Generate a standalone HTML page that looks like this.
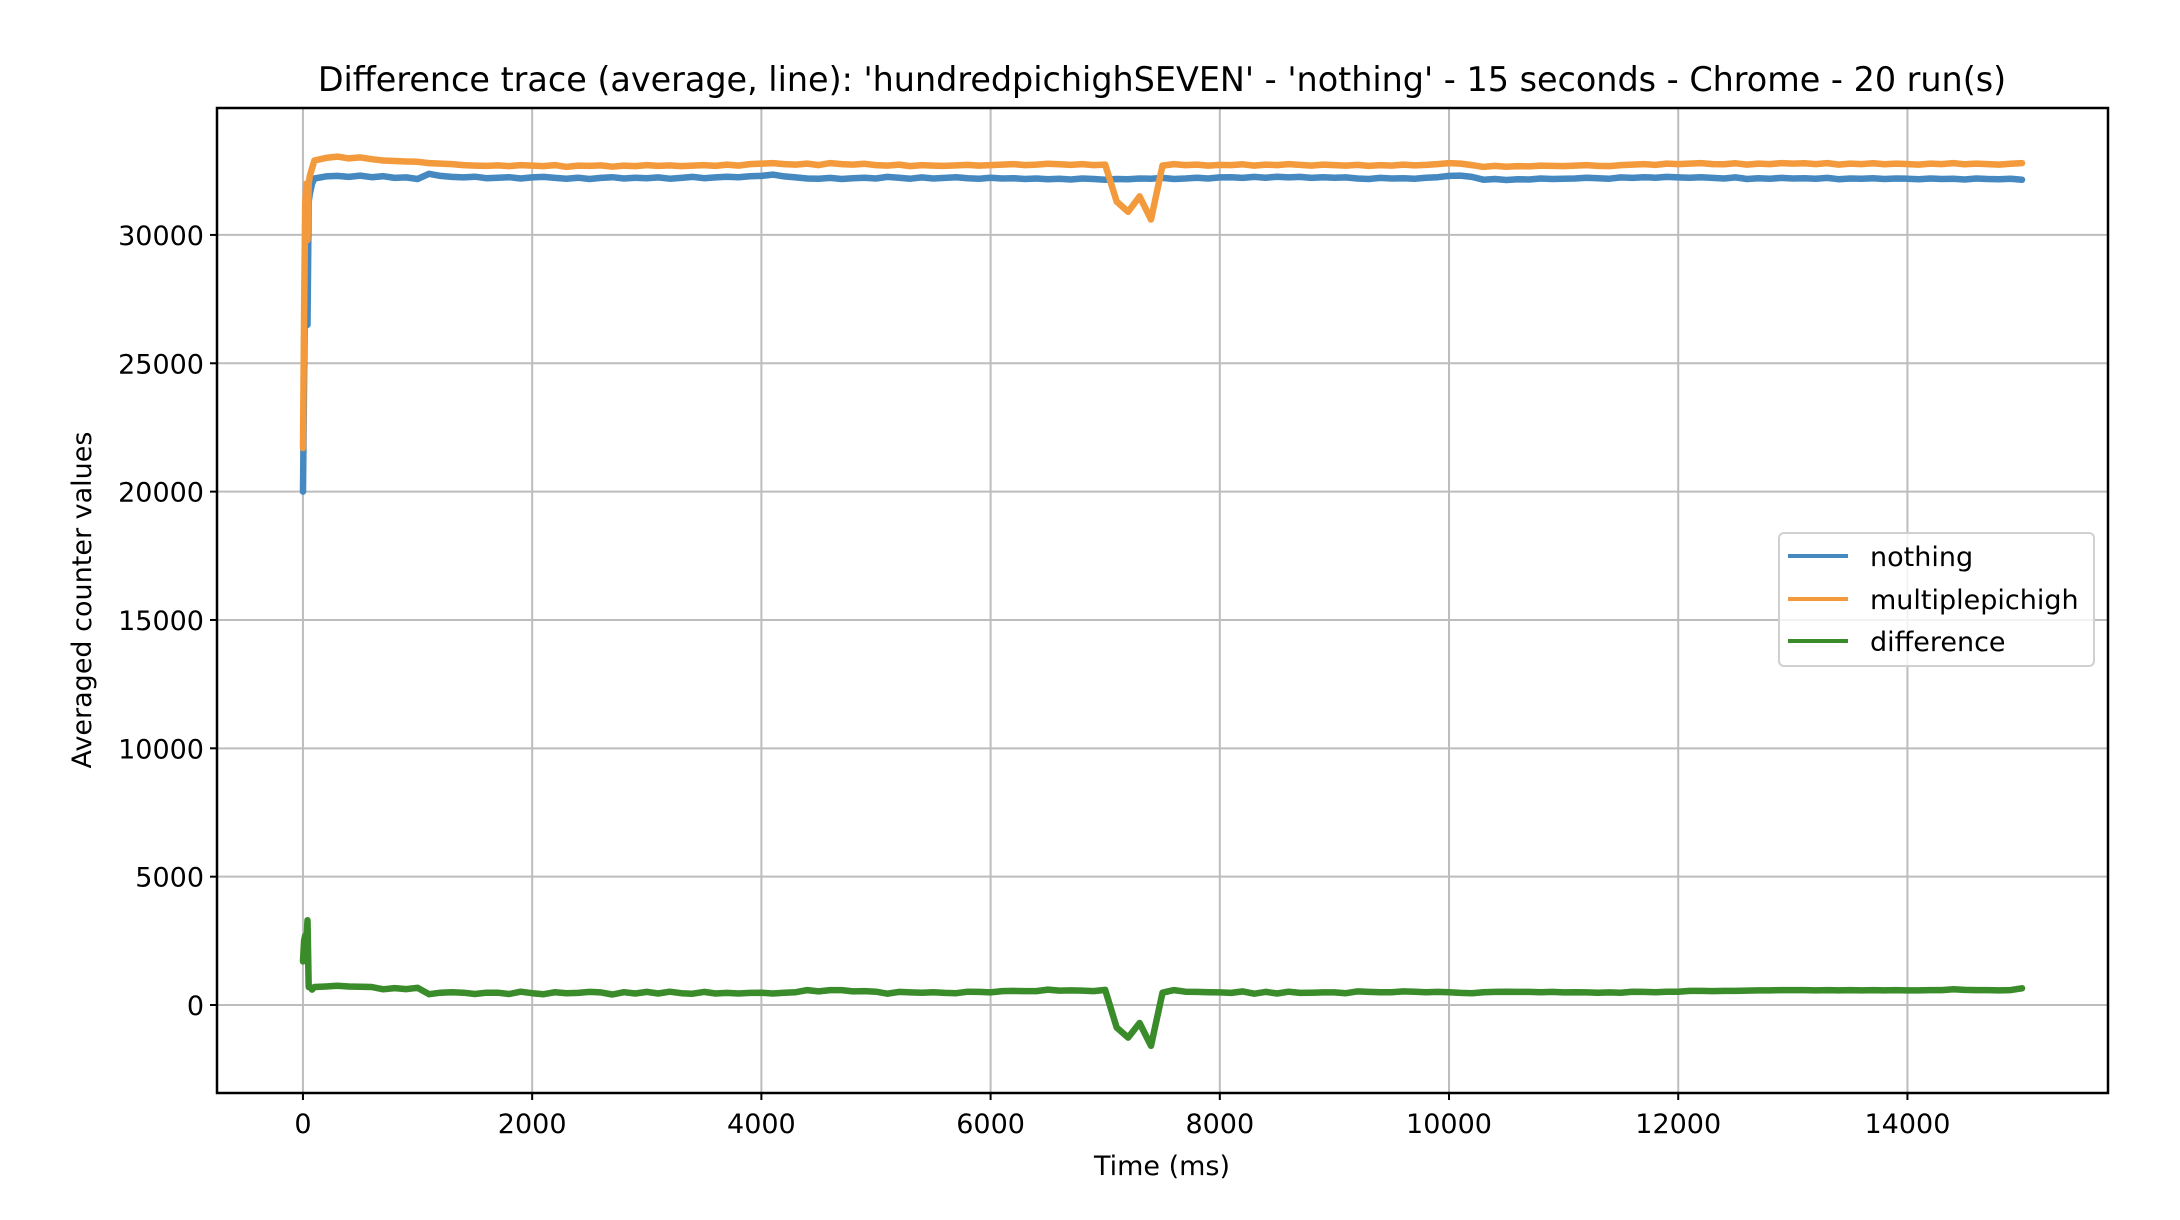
<!DOCTYPE html>
<html><head><meta charset="utf-8"><style>
html,body{margin:0;padding:0;background:#fff;}
svg{display:block;font-family:"DejaVu Sans","Liberation Sans",sans-serif;}
</style></head><body>
<svg id="chart" width="2180" height="1220" viewBox="0 0 2180 1220">
<rect x="0" y="0" width="2180" height="1220" fill="#fff"/>
<g id="grid"></g>
<g id="series"></g>
<rect x="217" y="108" width="1891" height="985" fill="none" stroke="#000" stroke-width="2.5"/>
<g id="ticks"></g>
<text x="1162" y="91" font-size="33.4" text-anchor="middle">Difference trace (average, line): 'hundredpichighSEVEN' - 'nothing' - 15 seconds - Chrome - 20 run(s)</text>
<text x="1162" y="1175" font-size="27" text-anchor="middle">Time (ms)</text>
<text x="0" y="0" font-size="27" text-anchor="middle" transform="translate(91,600) rotate(-90)">Averaged counter values</text>
<g>
<rect x="1779" y="533" width="315" height="133" rx="5" fill="#fff" fill-opacity="0.8" stroke="#d0d0d0" stroke-width="2"/>
<g><line x1="1788" y1="556" x2="1848" y2="556" stroke="#4689c0" stroke-width="4"/><text x="1870" y="566" font-size="27">nothing</text></g>
<g><line x1="1788" y1="599" x2="1848" y2="599" stroke="#f39a3c" stroke-width="4"/><text x="1870" y="609" font-size="27">multiplepichigh</text></g>
<g><line x1="1788" y1="641" x2="1848" y2="641" stroke="#3a8b2a" stroke-width="4"/><text x="1870" y="651" font-size="27">difference</text></g>
</g>
</svg>
<script>
const earlyTimes = [0,10,20,30,40,50,60,80];
const nothingEarly = [20000,24500,28500,29500,26500,31300,31600,32000];
const multipleEarly = [21700,27000,31200,32000,29800,32000,32300,32600];
const nothingValues = [
32200,32280,32300,32260,32310,32250,32290,32220,32240,32180,
32380,32300,32260,32240,32270,32210,32230,32250,32200,32240,
32260,32220,32190,32230,32180,32220,32250,32200,32230,32210,
32240,32190,32220,32260,32210,32240,32270,32250,32290,32300,
32350,32280,32240,32200,32190,32220,32180,32210,32230,32200,
32260,32230,32190,32240,32200,32220,32250,32210,32190,32230,
32200,32210,32180,32200,32170,32190,32160,32200,32180,32150,
32180,32170,32200,32190,32220,32180,32200,32230,32200,32240,
32250,32220,32260,32230,32270,32240,32260,32220,32250,32230,
32240,32200,32180,32220,32200,32210,32190,32230,32250,32300,
32310,32260,32150,32180,32140,32170,32160,32200,32180,32190,
32200,32230,32210,32190,32240,32220,32250,32230,32260,32240,
32230,32250,32220,32200,32240,32180,32210,32190,32220,32200,
32210,32190,32220,32170,32200,32190,32210,32180,32200,32190,
32170,32200,32180,32190,32160,32200,32180,32170,32190,32150];
const multipleValues = [
32900,33000,33050,32980,33020,32950,32900,32880,32860,32850,
32800,32780,32760,32720,32700,32690,32710,32680,32720,32700,
32680,32720,32650,32700,32690,32710,32660,32700,32680,32720,
32690,32710,32680,32700,32720,32690,32740,32700,32760,32780,
32800,32760,32740,32780,32720,32800,32760,32740,32770,32720,
32700,32740,32680,32720,32700,32690,32710,32730,32700,32720,
32740,32760,32720,32740,32770,32750,32730,32760,32720,32740,
31300,30900,31500,30600,32700,32760,32720,32740,32700,32730,
32720,32750,32700,32740,32720,32760,32730,32700,32740,32720,
32700,32730,32690,32720,32700,32740,32710,32730,32760,32800,
32780,32720,32650,32690,32660,32680,32670,32700,32690,32680,
32700,32720,32690,32680,32720,32740,32760,32730,32780,32760,
32780,32800,32760,32750,32790,32740,32780,32760,32800,32780,
32790,32760,32800,32740,32780,32760,32790,32750,32780,32760,
32740,32780,32760,32800,32750,32780,32760,32740,32770,32800];
const xTicks = [0,2000,4000,6000,8000,10000,12000,14000];
const yTicks = [0,5000,10000,15000,20000,25000,30000];

const NS = 'http://www.w3.org/2000/svg';
const X0 = 217, X1 = 2108, Y0 = 108, Y1 = 1093;
const xMin = -750, xMax = 15750, yMin = -3428, yMax = 34945;
const xs = v => X0 + (v - xMin) / (xMax - xMin) * (X1 - X0);
const ys = v => Y1 - (v - yMin) / (yMax - yMin) * (Y1 - Y0);

const times = earlyTimes.slice();
for (let i = 0; i < nothingValues.length; i++) times.push(100 + i * 100);
const nothing = nothingEarly.concat(nothingValues);
const multiple = multipleEarly.concat(multipleValues);
const difference = multiple.map((m, i) => m - nothing[i]);

const grid = document.getElementById('grid');
const ticks = document.getElementById('ticks');
function mk(tag, attrs, parent) {
  const e = document.createElementNS(NS, tag);
  for (const k in attrs) e.setAttribute(k, attrs[k]);
  parent.appendChild(e);
  return e;
}
xTicks.forEach(t => {
  const x = xs(t);
  const g = mk('line', {x1: x, y1: Y0, x2: x, y2: Y1, stroke: '#bdbdbd', 'stroke-width': 2}, grid);
  
  
  const tk = mk('line', {x1: x, y1: Y1, x2: x, y2: Y1 + 7, stroke: '#000', 'stroke-width': 2}, ticks);
  
  
  const tx = mk('text', {x: x, y: Y1 + 40, 'font-size': 27, 'text-anchor': 'middle'}, ticks);
  tx.textContent = String(t);
  
  
});
yTicks.forEach(t => {
  const y = ys(t);
  const g = mk('line', {x1: X0, y1: y, x2: X1, y2: y, stroke: '#bdbdbd', 'stroke-width': 2}, grid);
  
  
  const tk = mk('line', {x1: X0 - 7, y1: y, x2: X0, y2: y, stroke: '#000', 'stroke-width': 2}, ticks);
  
  
  const tx = mk('text', {x: X0 - 13, y: y + 10, 'font-size': 27, 'text-anchor': 'end'}, ticks);
  tx.textContent = String(t);
  
  
});
const seriesG = document.getElementById('series');
function drawLine(vals, color, name) {
  const d = vals.map((v, i) => (i ? 'L' : 'M') + xs(times[i]).toFixed(1) + ',' + ys(v).toFixed(1)).join('');
  const p = mk('path', {d: d, fill: 'none', stroke: color, 'stroke-width': 6.5, 'stroke-linejoin': 'round', 'stroke-linecap': 'round'}, seriesG);
  
  
}
drawLine(nothing, '#4689c0', 'nothing-line');
drawLine(multiple, '#f39a3c', 'multiplepichigh-line');
drawLine(difference, '#3a8b2a', 'difference-line');
</script>
</body></html>
